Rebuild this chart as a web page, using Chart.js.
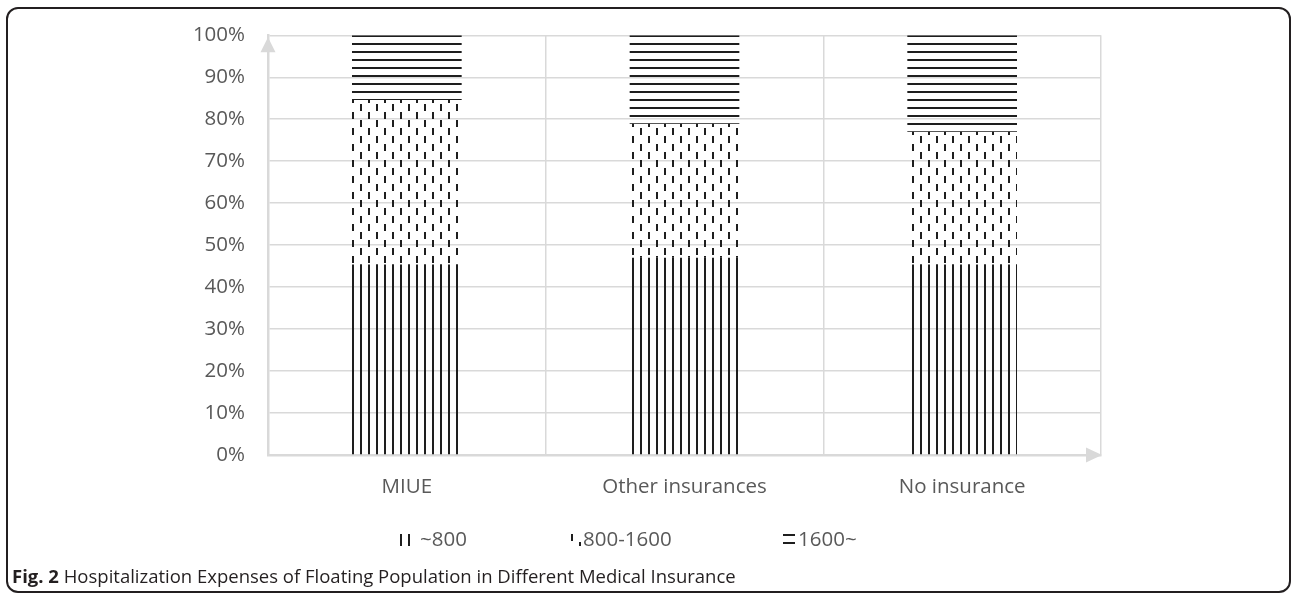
<!DOCTYPE html>
<html>
<head>
<meta charset="utf-8">
<script src="https://cdn.jsdelivr.net/npm/chart.js@4.4.1/dist/chart.umd.min.js"></script>
<style>
  html, body { margin: 0; padding: 0; background: #fff; }
  #wrap { position: relative; width: 1292px; height: 595px; overflow: hidden; }
  #frame {
    position: absolute; left: 6px; top: 7px; width: 1285px; height: 586px;
    border: 2px solid #231f20; border-radius: 12px; box-sizing: border-box;
  }
  #chart { position: absolute; left: 0; top: 0; }
  #caption {
    position: absolute; left: 12px; top: 565px; line-height: 22px;
    font-family: "Open Sans", sans-serif; font-size: 18.5px; color: #231f20; white-space: nowrap;
  }
  #caption b { font-weight: 700; }
</style>
</head>
<body>
<div id="wrap">
  <div id="frame"></div>
  <canvas id="chart" width="1292" height="595"></canvas>
  <div id="caption"><b>Fig. 2</b> Hospitalization Expenses of Floating Population in Different Medical Insurance</div>
</div>
<script>
// данные (доли, %)
const categories = ['MIUE', 'Other insurances', 'No insurance'];
const seriesNames = ['~800', '800-1600', '1600~'];
const costUpTo800 = [45.4, 47.0, 45.4];
const cost800to1600 = [39.2, 31.9, 31.6];
const costOver1600 = [15.4, 21.1, 23.0];
const yTickValues = [0, 10, 20, 30, 40, 50, 60, 70, 80, 90, 100];

const INK = '#1e1e1e';
const GRID = '#d9d9d9';
const LABEL = '#595959';
const FONT = '"Open Sans", sans-serif';

// штриховки как в Excel
function makePattern(w, h, draw) {
  const c = document.createElement('canvas');
  c.width = w;
  c.height = h;
  const g = c.getContext('2d');
  g.fillStyle = INK;
  draw(g);
  return g.createPattern(c, 'repeat');
}

const patVertical = makePattern(8, 8, g => g.fillRect(0, 0, 2, 8));
const patDashes = makePattern(16, 16, g => {
  g.fillRect(0, 0, 2, 7);
  g.fillRect(8, 8, 2, 7);
});
const patHorizontal = makePattern(8, 8, g => g.fillRect(0, 0, 8, 2));

// верхняя линия штриховки должна лечь на отметку 100%
const patternAnchor = {
  id: 'patternAnchor',
  beforeDatasetsDraw(chart) {
    const top = Math.round(chart.chartArea.top);
    patHorizontal.setTransform(new DOMMatrix([1, 0, 0, 1, 0, top]));
  },
  afterDatasetsDraw() {
    patHorizontal.setTransform(new DOMMatrix());
  }
};

// стрелки на концах осей
const axisArrows = {
  id: 'axisArrows',
  afterDraw(chart) {
    const {ctx, chartArea: a} = chart;
    ctx.save();
    ctx.fillStyle = GRID;
    ctx.beginPath();
    ctx.moveTo(a.left, a.top + 2);
    ctx.lineTo(a.left - 7.5, a.top + 17);
    ctx.lineTo(a.left + 7.5, a.top + 17);
    ctx.closePath();
    ctx.fill();
    ctx.beginPath();
    ctx.moveTo(a.right + 1, a.bottom);
    ctx.lineTo(a.right - 15, a.bottom - 7.5);
    ctx.lineTo(a.right - 15, a.bottom + 7.5);
    ctx.closePath();
    ctx.fill();
    ctx.restore();
  }
};

// легенда в стиле Excel (маленькие образцы штриховки)
const excelLegend = {
  id: 'excelLegend',
  afterDraw(chart, args, opts) {
    const ctx = chart.ctx;
    ctx.save();
    ctx.font = `20.5px ${FONT}`;
    ctx.textBaseline = 'middle';
    chart.data.datasets.forEach((ds, i) => {
      const s = opts.slots[i];
      ctx.save();
      ctx.translate(s.boxX, opts.y - 6);
      ctx.fillStyle = ds.backgroundColor;
      ctx.fillRect(0, 0, s.boxW, 12);
      ctx.restore();
      ctx.fillStyle = LABEL;
      ctx.fillText(ds.label, s.textX, opts.y);
    });
    ctx.restore();
  }
};

new Chart(document.getElementById('chart'), {
  type: 'bar',
  data: {
    labels: categories,
    datasets: [
      {label: seriesNames[0], data: costUpTo800, backgroundColor: patVertical},
      {label: seriesNames[1], data: cost800to1600, backgroundColor: patDashes},
      {label: seriesNames[2], data: costOver1600, backgroundColor: patHorizontal}
    ]
  },
  options: {
    responsive: false,
    animation: false,
    layout: {padding: {top: 33, left: 0, right: 191, bottom: 80}},
    datasets: {
      bar: {categoryPercentage: 1, barPercentage: 0.395, borderWidth: 0}
    },
    scales: {
      x: {
        stacked: true,
        afterFit: s => { s.height = 60; },
        grid: {offset: true, color: GRID, lineWidth: 1.5, drawTicks: false},
        border: {color: GRID, width: 2.5},
        ticks: {color: LABEL, padding: 20, font: {family: FONT, size: 20.5}}
      },
      y: {
        stacked: true,
        min: 0,
        max: 100,
        afterFit: s => { s.width = 268; },
        afterBuildTicks: s => { s.ticks = yTickValues.map(v => ({value: v})); },
        grid: {color: GRID, lineWidth: 1.5, drawTicks: false},
        border: {color: GRID, width: 2.5},
        ticks: {
          color: LABEL,
          padding: 23,
          font: {family: FONT, size: 20.5},
          callback: v => v + '%'
        }
      }
    },
    plugins: {
      legend: {display: false},
      tooltip: {enabled: false},
      excelLegend: {
        y: 540,
        slots: [
          {boxX: 400, boxW: 10, textX: 420},
          {boxX: 571, boxW: 10, textX: 583},
          {boxX: 783, boxW: 12, textX: 798}
        ]
      }
    }
  },
  plugins: [patternAnchor, axisArrows, excelLegend]
});
</script>
</body>
</html>
